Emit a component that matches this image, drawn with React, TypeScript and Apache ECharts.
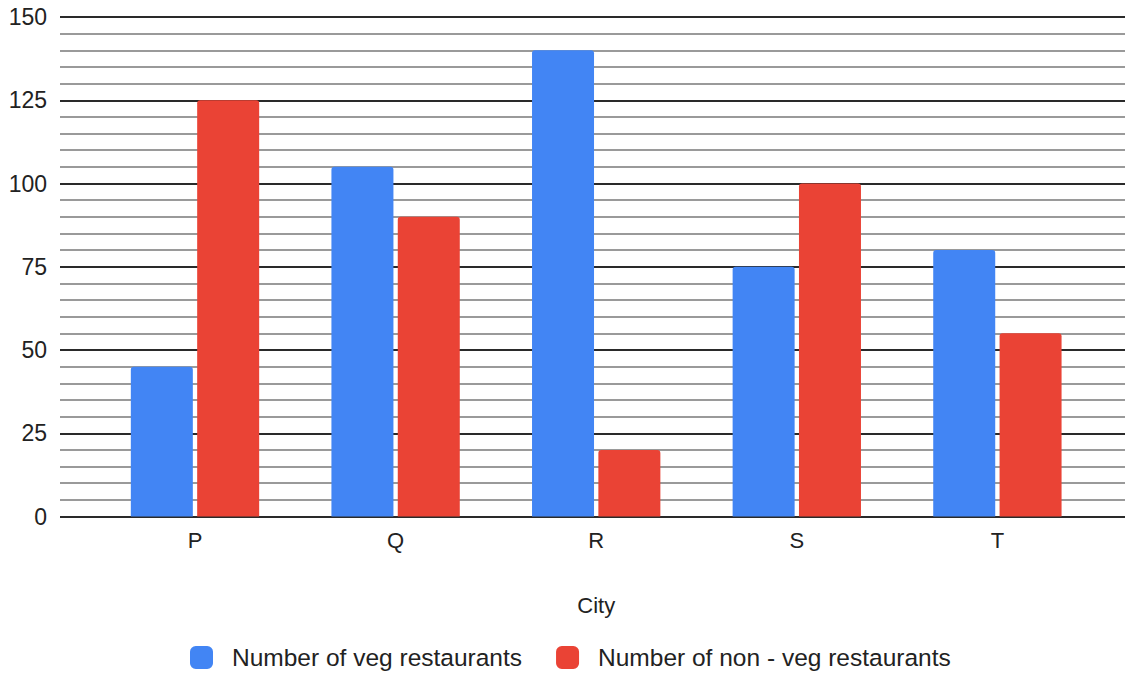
import React, { useEffect, useRef } from "react";
import * as echarts from "echarts";

const categories = ["P", "Q", "R", "S", "T"];
const vegValues = [45, 105, 140, 75, 80];
const nonVegValues = [125, 90, 20, 100, 55];
const seriesNames = ["Number of veg restaurants", "Number of non - veg restaurants"];
const xAxisName = "City";

const FONT = "'Liberation Sans', Arial, sans-serif";
const TEXT = "#222222";

export default function App() {
  const ref = useRef<HTMLDivElement>(null);
  useEffect(() => {
    document.body.style.margin = "0";
    if (!ref.current) return;
    const chart = echarts.init(ref.current, null, { renderer: "svg" });
    const top = 17;
    const bottom = 673 - 516.5;
    chart.setOption({
      animation: false,
      backgroundColor: "#ffffff",
      textStyle: { fontFamily: FONT },
      grid: [
        { left: 60, right: 0, top, bottom, containLabel: false },
        { left: 94.7, right: 27.3, top, bottom, containLabel: false },
      ],
      xAxis: [
        { type: "value", gridIndex: 0, min: 0, max: 1, show: false },
        {
          type: "category",
          gridIndex: 1,
          data: categories,
          axisLine: { show: false },
          axisTick: { show: false },
          axisLabel: { color: TEXT, fontSize: 22, margin: 13, fontFamily: FONT },
          splitLine: { show: false },
          name: xAxisName,
          nameLocation: "middle",
          nameGap: 78,
          nameTextStyle: { color: TEXT, fontSize: 22, fontFamily: FONT },
        },
      ],
      yAxis: [
        {
          type: "value",
          gridIndex: 0,
          min: 0,
          max: 150,
          interval: 25,
          axisLine: { show: false },
          axisTick: { show: false },
          axisLabel: { color: TEXT, fontSize: 23, margin: 13, fontFamily: FONT },
          splitLine: { show: true, lineStyle: { color: "#2a2a2a", width: 2 } },
          minorTick: { show: false, splitNumber: 5 },
          minorSplitLine: { show: true, lineStyle: { color: "#9a9a9a", width: 2 } },
        },
        {
          type: "value",
          gridIndex: 1,
          min: 0,
          max: 150,
          interval: 25,
          show: false,
          splitLine: { show: false },
        },
      ],
      legend: {
        left: 185,
        top: 640,
        padding: 5,
        itemWidth: 23,
        itemHeight: 23,
        itemGap: 34,
        icon: "roundRect",
        textStyle: { color: TEXT, fontSize: 24.5, fontFamily: FONT, padding: [0, 0, 0, 14] },
        data: seriesNames,
      },
      series: [
        {
          name: seriesNames[0],
          type: "bar",
          xAxisIndex: 1,
          yAxisIndex: 1,
          data: vegValues,
          barWidth: 62,
          barGap: "7%",
          itemStyle: { color: "#4285F4", borderRadius: [3, 3, 0, 0] },
        },
        {
          name: seriesNames[1],
          type: "bar",
          xAxisIndex: 1,
          yAxisIndex: 1,
          data: nonVegValues,
          barWidth: 62,
          barGap: "7%",
          itemStyle: { color: "#EA4335", borderRadius: [3, 3, 0, 0] },
        },
      ],
    });
    return () => chart.dispose();
  }, []);
  return <div ref={ref} style={{ width: 1125, height: 673 }} />;
}
